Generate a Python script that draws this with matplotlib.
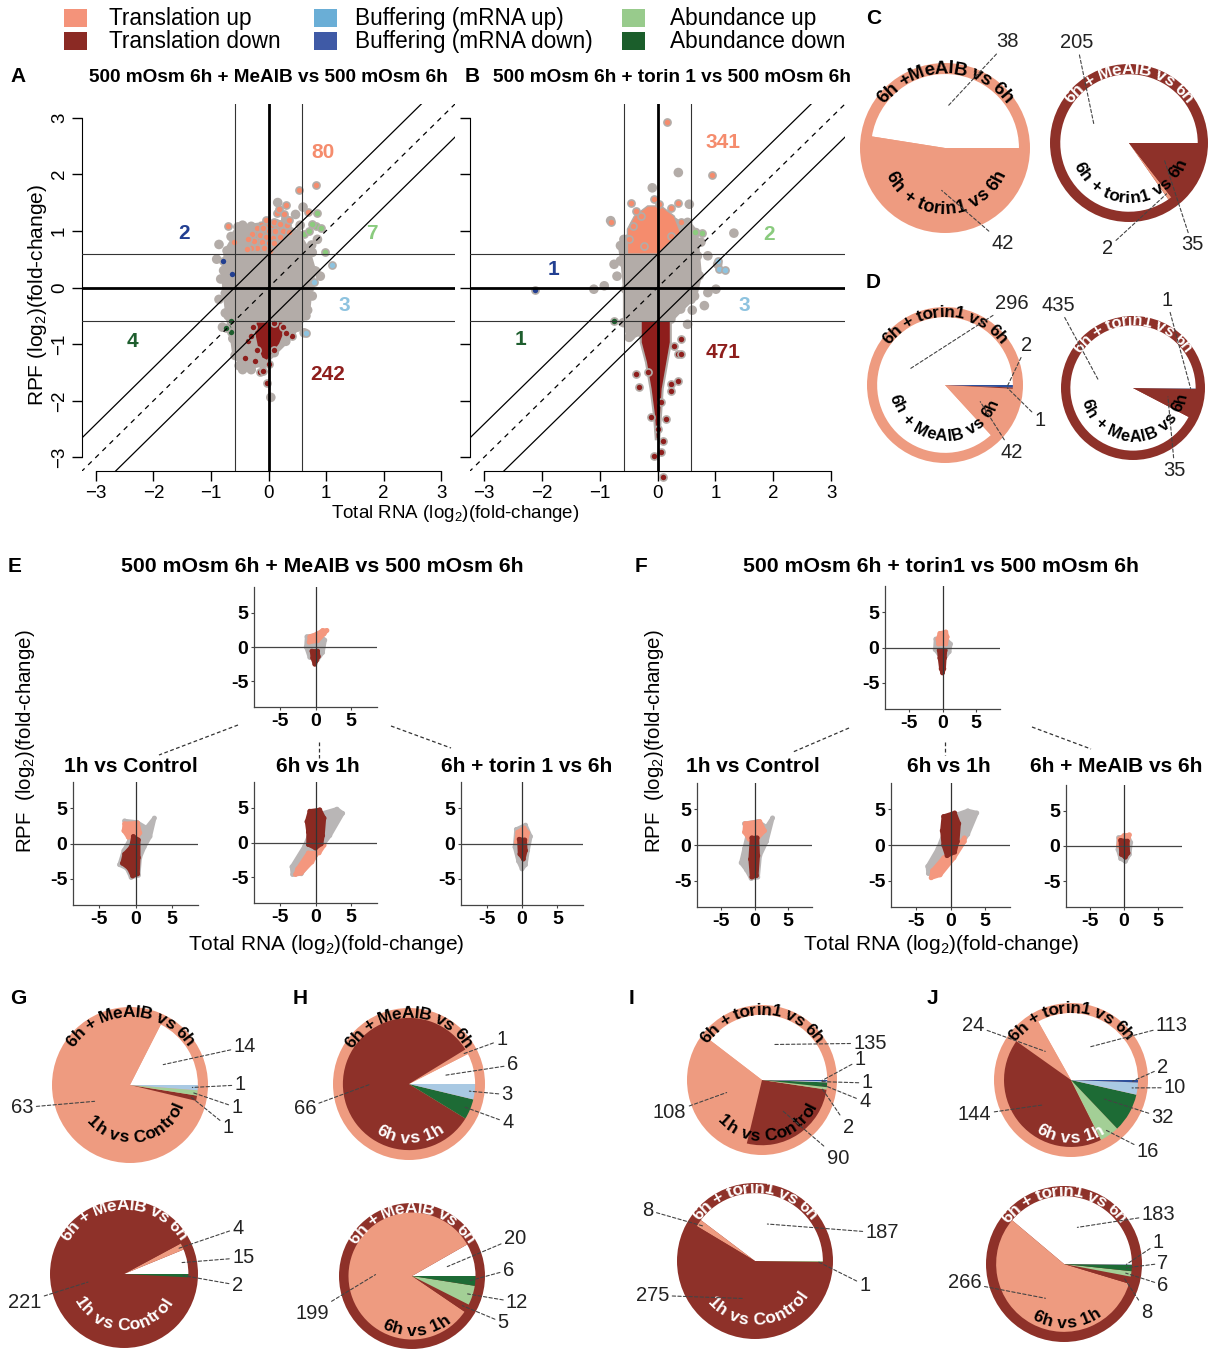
import numpy as np
import matplotlib.pyplot as plt
from matplotlib.patches import Rectangle, Wedge, Circle, Polygon
from matplotlib.font_manager import FontProperties, findfont, get_font

plt.rcParams['font.family'] = ['Liberation Sans', 'DejaVu Sans']
plt.rcParams['mathtext.fontset'] = 'custom'
plt.rcParams['mathtext.rm'] = 'Liberation Sans'
plt.rcParams['mathtext.it'] = 'Liberation Sans:italic'
plt.rcParams['mathtext.bf'] = 'Liberation Sans:bold'

W, H, DPI = 1220, 1349, 100

# ---------------------------------------------------------------- colours
GRAY = '#B3ACA8'
UP_PT, DOWN_PT = '#F58C6D', '#8E1E1C'
PIE_COLS = ['white', '#EE9B80', '#8E3129', '#A3CF96', '#1D6B35', '#A9C9E3', '#2C4F9B']
LEG_COLS = ['#F4937A', '#8B2A24', '#6AAED6', '#3F5AA6', '#98CB8C', '#1B5E2B']
SM_GRAY, SM_UP, SM_DOWN = '#B9B6B6', '#F4977E', '#8B2A22'

# ---------------------------------------------------------------- legend
legend_labels = ['Translation up', 'Translation down', 'Buffering (mRNA up)',
                 'Buffering (mRNA down)', 'Abundance up', 'Abundance down']

# ---------------------------------------------------------------- panel A/B data (log2 fold changes)
A_gray_poly = [(-0.55, 0.95), (-0.3, 1.08), (0.0, 1.12), (0.3, 1.08), (0.5, 0.95), (0.68, 0.65),
               (0.78, 0.3), (0.72, 0.0), (0.68, -0.4), (0.5, -0.7), (0.3, -0.95), (0.1, -1.15),
               (-0.1, -1.35), (-0.4, -1.4), (-0.58, -1.2), (-0.62, -0.9), (-0.7, -0.5),
               (-0.75, -0.1), (-0.78, 0.3), (-0.72, 0.65)]
A_gray_pts = [(-0.86, 0.76), (-0.83, 0.15), (-0.86, -0.21), (-0.75, -0.45), (0.16, 1.5), (0.47, 1.29),
              (0.6, 1.42), (0.85, 0.85), (0.76, 0.62), (0.82, 0.29), (0.76, -0.15), (0.65, -0.5),
              (0.36, -0.84), (0.04, -1.94), (-0.51, -1.38), (-0.53, 1.07), (-0.9, 0.5), (0.9, 0.2),
              (0.75, 0.75), (-0.45, -1.45), (0.3, 1.2), (-0.45, 1.1), (-0.65, 0.9), (0.55, 1.1),
              (0.62, -0.8), (-0.3, -1.45), (0.4, 0.0), (-0.8, -0.7)]
A_up_poly = [(-0.3, 0.62), (0.0, 0.62), (0.33, 0.95), (0.35, 1.1), (0.15, 1.2), (-0.15, 1.15), (-0.3, 0.95)]
A_up_pts = [(0.82, 1.81), (0.53, 1.72), (0.3, 1.45), (0.14, 1.32), (0.27, 1.3), (-0.05, 1.2),
            (0.1, 1.15), (0.2, 1.12), (0.32, 1.1), (-0.2, 1.05), (-0.1, 1.05), (0.0, 1.0), (0.12, 1.0),
            (0.25, 1.0), (0.35, 0.98), (-0.28, 0.95), (-0.15, 0.92), (-0.05, 0.9), (0.08, 0.88),
            (0.2, 0.9), (-0.25, 0.82), (-0.12, 0.8), (0.0, 0.78), (0.1, 0.78), (-0.2, 0.7),
            (-0.08, 0.7), (0.02, 0.65), (-0.3, 0.7), (-0.6, 0.8), (-0.71, 1.09), (-0.38, 0.68),
            (0.35, 1.2), (0.68, 1.34), (-0.35, 0.85), (0.18, 1.38)]
A_down_poly = [(-0.22, -0.6), (0.25, -0.6), (0.3, -0.75), (0.2, -1.0), (0.05, -1.2), (-0.02, -1.3),
               (-0.12, -1.25), (-0.2, -1.05), (-0.25, -0.8)]
A_down_pts = [(-0.35, -0.95), (-0.4, -1.25), (-0.24, -1.3), (-0.15, -1.5), (-0.1, -1.48),
              (-0.02, -1.68), (0.4, -0.85), (0.25, -0.7), (-0.27, -0.7), (0.1, -0.62), (0.3, -0.8),
              (0.0, -1.35), (0.1, -1.1), (-0.2, -1.1), (-0.3, -0.85)]
A_abup_pts = [(0.85, 1.32), (0.82, 1.09), (0.76, 1.12), (0.62, 0.94), (0.99, 0.63), (0.92, 1.05), (0.7, 1.0)]
A_abdown_pts = [(-0.66, -0.6), (-0.71, -0.69), (-0.65, -0.79), (-0.73, -0.72)]
A_bufup_pts = [(1.11, 0.4), (0.79, 0.1), (0.66, -0.81)]
A_bufdown_pts = [(-0.79, 0.46), (-0.64, 0.24)]
A_counts = ['80', '242', '2', '7', '3', '4']

B_gray_poly = [(-0.58, 0.85), (-0.29, 1.03), (0.0, 1.09), (0.29, 1.15), (0.52, 1.15), (0.66, 0.97),
               (0.69, 0.56), (0.72, 0.21), (0.64, -0.15), (0.40, -0.38), (0.23, -0.56), (0.0, -0.62),
               (-0.29, -0.79), (-0.49, -0.88), (-0.55, -0.62), (-0.55, -0.03), (-0.59, 0.44), (-0.64, 0.74)]
B_gray_pts = [(-0.81, 1.18), (-1.1, -0.03), (-0.92, 0.03), (-0.75, 0.41), (-0.64, 0.47), (0.87, 0.56),
              (1.04, 0.41), (1.32, 0.96), (0.87, -0.09), (0.81, -0.32), (0.58, -0.21), (1.01, -0.03),
              (0.55, 1.47), (0.36, 2.03), (-0.09, 1.76), (-0.59, -0.62), (-0.46, -0.85), (0.52, -0.65),
              (0.75, 0.8), (-0.7, 0.2), (0.6, -0.4)]
B_up_poly = [(-0.52, 0.59), (0.0, 0.59), (0.40, 0.97), (0.29, 1.26), (0.06, 1.44), (-0.17, 1.44),
             (-0.40, 1.26), (-0.52, 1.03)]
B_up_pts = [(0.17, 2.93), (0.95, 1.99), (-0.80, 1.16), (-0.46, 1.5), (-0.06, 1.56), (0.23, 1.41),
            (0.35, 1.5), (0.40, 1.15), (-0.29, 1.26), (-0.43, 1.09), (-0.49, 0.85), (-0.23, 0.74),
            (0.23, 0.91), (0.03, 1.47), (-0.38, 1.35)]
B_down_poly = [(-0.29, -0.59), (0.23, -0.59), (0.23, -0.97), (0.17, -1.32), (0.09, -1.79), (0.06, -2.26),
               (0.03, -2.68), (-0.03, -2.68), (-0.06, -2.26), (-0.12, -1.79), (-0.20, -1.32), (-0.29, -0.97)]
B_down_pts = [(-0.38, -1.53), (-0.32, -1.76), (0.23, -1.71), (0.35, -1.65), (0.35, -1.18), (0.40, -1.18),
              (0.29, -1.03), (0.40, -0.91), (-0.17, -1.5), (0.06, -2.91), (0.09, -3.35), (-0.06, -2.97),
              (0.09, -2.71), (0.0, -2.5), (0.14, -2.32), (-0.12, -2.29), (0.06, -2.03), (0.23, -1.82)]
B_abup_pts = [(0.77, 0.96), (0.64, 0.98)]
B_abdown_pts = [(-0.75, -0.6)]
B_bufup_pts = [(1.07, 0.32), (1.16, 0.31), (1.04, 0.47)]
B_bufdown_pts = [(-2.12, -0.05)]
B_counts = ['341', '471', '1', '2', '3', '1']

# ---------------------------------------------------------------- pies: none, up, down, ab up, ab down, buf up, buf down
C_left_vals = [38, 42, 0, 0, 0, 0, 0]
C_right_vals = [205, 2, 35, 0, 0, 0, 0]
D_left_vals = [296, 42, 1, 0, 0, 0, 2]
D_right_vals = [435, 0, 35, 0, 0, 1, 0]
G_top_vals = [14, 63, 1, 1, 0, 1, 0]
G_bot_vals = [15, 4, 221, 0, 2, 0, 0]
H_top_vals = [6, 1, 66, 0, 4, 3, 0]
H_bot_vals = [20, 199, 5, 12, 6, 0, 0]
I_top_vals = [135, 108, 90, 2, 4, 1, 1]
I_bot_vals = [187, 8, 275, 1, 0, 0, 0]
J_top_vals = [113, 24, 144, 16, 32, 10, 2]
J_bot_vals = [183, 266, 8, 6, 7, 1, 0]

# ---------------------------------------------------------------- E / F mini scatter clouds
E_top = dict(gray=[(-1.2, 1.5), (0.5, 1.8), (1.3, 1.0), (1.0, -0.8), (0.3, -1.8), (-0.8, -1.5), (-1.3, 0.0)],
             up=[(-0.9, 0.7), (0.3, 0.9), (1.2, 1.9), (1.6, 2.4), (1.0, 2.4), (0.2, 1.9), (-0.8, 1.5)],
             down=[(-0.5, -0.6), (0.3, -0.6), (0.4, -1.4), (0.1, -2.0), (-0.1, -2.5), (-0.4, -1.6)])
E_bl = dict(gray=[(-1.5, 3.2), (0.2, 3.0), (1.5, 2.2), (2.6, 3.6), (2.0, 1.0), (1.2, -0.5), (0.6, -2.0),
                  (0.4, -4.5), (-0.6, -4.8), (-1.2, -3.5), (-2.2, -3.0), (-1.6, -1.0), (-0.8, 0.5), (-1.2, 2.0)],
            up=[(-1.5, 2.8), (0.3, 2.9), (0.6, 1.5), (0.2, 0.8), (-1.0, 0.9), (-1.6, 1.8)],
            down=[(-0.3, 1.0), (0.4, 0.5), (0.4, -2.0), (0.3, -4.3), (-0.4, -4.6), (-0.9, -3.5),
                  (-1.8, -2.8), (-1.5, -1.5), (-0.6, -0.5)])
E_bm = dict(gray=[(-3.2, -4.6), (-2.0, -4.5), (0.0, -1.8), (2.0, 1.0), (3.8, 4.2), (3.0, 4.8), (1.0, 4.2),
                  (-0.5, 2.0), (-1.5, -0.5), (-3.3, -3.5)],
            down=[(-0.8, 4.5), (0.6, 4.7), (1.2, 3.5), (1.0, 1.0), (0.8, -0.2), (0.0, -0.8), (-1.0, -0.3),
                  (-1.0, 1.5), (-1.2, 3.0)],
            up=[(-2.8, -4.6), (-2.0, -4.4), (-0.5, -2.8), (0.8, -0.6), (1.2, -0.4), (0.5, -1.5),
                (-1.0, -1.5), (-2.5, -3.8)])
E_br = dict(gray=[(-0.8, 2.0), (0.5, 2.6), (1.2, 1.0), (0.8, -1.0), (0.5, -3.0), (0.0, -3.6), (-0.5, -2.5),
                  (-1.0, -0.5)],
            up=[(-0.8, 0.2), (0.6, 0.3), (0.8, 1.5), (0.3, 2.2), (-0.6, 1.6)],
            down=[(-0.4, 0.6), (0.4, 0.5), (0.5, -1.0), (0.2, -2.2), (-0.3, -1.5)])
F_top = dict(gray=[(-1.0, 1.2), (0.5, 1.2), (1.2, 0.5), (1.0, -0.6), (0.5, -1.2), (-0.5, -1.0), (-1.1, -0.3)],
             up=[(-0.6, 0.5), (0.5, 0.5), (0.7, 1.5), (0.5, 2.2), (-0.4, 2.0), (-0.7, 1.2)],
             down=[(-0.5, -0.4), (0.4, -0.4), (0.3, -1.5), (0.2, -3.0), (0.0, -3.6), (-0.2, -3.0), (-0.4, -1.5)])
F_bl = dict(gray=[(-1.5, 3.0), (0.5, 3.3), (1.8, 2.5), (2.7, 3.8), (1.8, 0.5), (0.8, -1.5), (0.5, -4.5),
                  (-0.5, -4.7), (-1.2, -3.5), (-2.0, -2.5), (-1.5, -0.5), (-1.0, 1.5)],
            up=[(-1.4, 3.0), (0.8, 3.3), (1.5, 2.0), (0.5, 1.0), (-0.8, 0.8), (-1.5, 1.8)],
            down=[(-0.4, 1.0), (0.4, 1.0), (0.5, -1.5), (0.3, -4.3), (-0.4, -4.5), (-0.6, -2.0)])
F_bm = dict(gray=[(-3.2, -4.0), (-1.5, -4.0), (0.5, -1.5), (2.5, 1.5), (3.8, 4.5), (2.5, 4.8), (1.0, 4.3),
                  (-0.8, 2.0), (-1.8, -0.5), (-3.3, -3.0)],
            up=[(-2.8, -4.6), (-1.5, -4.2), (0.5, -1.8), (2.0, 0.5), (2.0, 1.0), (0.8, -0.5), (-1.0, -1.8),
                (-2.6, -3.6)],
            down=[(-1.0, 4.0), (0.6, 4.5), (1.2, 3.0), (1.0, 0.5), (0.6, -1.0), (-0.5, -1.5), (-1.0, 0.0),
                  (-1.2, 2.0)])
F_br = dict(gray=[(-0.8, 1.2), (0.6, 1.4), (1.0, 0.5), (0.8, -1.2), (0.2, -2.2), (-0.5, -1.8), (-0.9, -0.5)],
            up=[(-0.8, 0.0), (0.5, 0.2), (0.8, 1.6), (0.0, 1.5), (-0.7, 1.0)],
            down=[(-0.5, 0.8), (0.5, 0.7), (0.6, -1.0), (0.2, -1.6), (-0.4, -1.2)])
small_ticks = [-5, 0, 5]
small_ticklabels = ['-5', '0', '5']
big_ticks = [-3, -2, -1, 0, 1, 2, 3]

fig = plt.figure(figsize=(W / DPI, H / DPI), dpi=DPI)
fig.patch.set_facecolor('white')


def px_axes(x0, y0, x1, y1):
    return fig.add_axes([x0 / W, 1 - y1 / H, (x1 - x0) / W, (y1 - y0) / H])


bg = px_axes(0, 0, W, H)
bg.set_xlim(0, W)
bg.set_ylim(H, 0)
bg.axis('off')

# legend
for i, lab in enumerate(legend_labels):
    col, row = i // 2, i % 2
    x0 = [64, 314, 622][col]
    y0 = [9, 32][row]
    bg.add_patch(Rectangle((x0, y0), 23, 18, fc=LEG_COLS[i], ec='none'))
    bg.text([109, 355, 670][col], y0 + 9.5, lab, fontsize=16.3, va='center', ha='left')

# panel letters
for let, x, y in [('A', 18, 77), ('B', 472, 77), ('C', 874, 18), ('D', 873, 283), ('E', 15, 567),
                  ('F', 641, 567), ('G', 18, 998), ('H', 300, 998), ('I', 632, 998), ('J', 932, 998)]:
    bg.text(x, y, let, fontsize=15, fontweight='bold', ha='center', va='center')


# ---------------------------------------------------------------- A / B scatter
def fc_panel(ax, gray_poly, gray_pts, up_poly, up_pts, down_poly, down_pts,
             abup, abdown, bufup, bufdown, counts, count_xy, ylab=True):
    ax.set_xlim(-3.24, 3.24)
    ax.set_ylim(-3.24, 3.24)
    for sp in ['top', 'right']:
        ax.spines[sp].set_visible(False)
    ax.spines['left'].set_bounds(-3, 3)
    ax.spines['bottom'].set_bounds(-3, 3)
    ax.set_xticks(big_ticks)
    ax.set_yticks(big_ticks)
    ax.tick_params(length=7, width=1, labelsize=13.5, pad=3)
    if ylab:
        for t in ax.get_yticklabels():
            t.set_rotation(90)
            t.set_va('center')
    else:
        ax.set_yticklabels([])

    ax.add_patch(Polygon(gray_poly, closed=True, fc=GRAY, ec=GRAY, lw=4, joinstyle='round', zorder=1))
    gx, gy = zip(*(gray_pts + gray_poly))
    ax.scatter(gx, gy, s=48, c=GRAY, edgecolors='none', zorder=1)
    ax.add_patch(Polygon(up_poly, closed=True, fc=UP_PT, ec=GRAY, lw=1, zorder=2))
    ax.add_patch(Polygon(down_poly, closed=True, fc=DOWN_PT, ec=GRAY, lw=1.5, zorder=2))
    for pts, col in [(up_pts, UP_PT), (down_pts, DOWN_PT), (abup, '#8CCB7E'), (abdown, '#1E5E2E'),
                     (bufup, '#8EC3DF'), (bufdown, '#223F91')]:
        x, y = zip(*pts)
        ax.scatter(x, y, s=26, c=col, edgecolors=GRAY, linewidths=1.2, zorder=3, clip_on=False)

    xs = np.array([-4, 4])
    for v in (-0.585, 0.585):
        ax.axvline(v, color='#333333', lw=0.8, zorder=4)
        ax.axhline(v, color='#333333', lw=0.8, zorder=4)
    ax.axvline(0, color='black', lw=2, zorder=4)
    ax.axhline(0, color='black', lw=2, zorder=4)
    ax.plot(xs, xs + 0.585, color='black', lw=0.9, zorder=4)
    ax.plot(xs, xs - 0.585, color='black', lw=0.9, zorder=4)
    ax.plot(xs, xs, color='black', lw=0.9, ls=(0, (4, 4)), zorder=4)

    ccols = [UP_PT, DOWN_PT, '#223F91', '#8ACB7E', '#8EC3DF', '#1E5E2E']
    for c, (x, y), col in zip(counts, count_xy, ccols):
        ax.text(x, y, c, color=col, fontsize=15, fontweight='bold', ha='center', va='center', zorder=5)


axA = px_axes(82, 104, 455, 471)
fc_panel(axA, A_gray_poly, A_gray_pts, A_up_poly, A_up_pts, A_down_poly, A_down_pts,
         A_abup_pts, A_abdown_pts, A_bufup_pts, A_bufdown_pts, A_counts,
         [(0.95, 2.39), (1.03, -1.54), (-1.47, 0.96), (1.80, 0.96), (1.31, -0.31), (-2.37, -0.95)])
axB = px_axes(470, 104, 845, 471)
fc_panel(axB, B_gray_poly, B_gray_pts, B_up_poly, B_up_pts, B_down_poly, B_down_pts,
         B_abup_pts, B_abdown_pts, B_bufup_pts, B_bufdown_pts, B_counts,
         [(1.13, 2.56), (1.13, -1.14), (-1.79, 0.32), (1.92, 0.93), (1.50, -0.31), (-2.36, -0.92)],
         ylab=False)

bg.text(268, 77, '500 mOsm 6h + MeAIB vs 500 mOsm 6h', fontsize=13.7, fontweight='bold', ha='center', va='center')
bg.text(672, 77, '500 mOsm 6h + torin 1 vs 500 mOsm 6h', fontsize=13.7, fontweight='bold', ha='center', va='center')
bg.text(38, 295, r'RPF (log$_2$)(fold-change)', fontsize=15, rotation=90, ha='center', va='center')
bg.text(455, 514, r'Total RNA (log$_2$)(fold-change)', fontsize=13.5, ha='center', va='center')

# ---------------------------------------------------------------- pies
BOLD = FontProperties(family='Liberation Sans', weight='bold')


def advances(s, size):
    font = get_font(findfont(BOLD))
    font.set_size(size, 72)
    return [font.load_char(ord(c)).linearHoriAdvance / 65536 for c in s]


def arc_text(ax, s, R, r, mid, size, color, top=True):
    adv = [a * DPI / 72 / R for a in advances(s, size)]
    span = sum(adv) / r
    pos = 0
    for ch, a in zip(s, adv):
        c = pos + a / 2
        pos += a
        if ch == ' ':
            continue
        if top:
            th = np.radians(mid) + span / 2 - c / r
            rot = np.degrees(th) - 90
        else:
            th = np.radians(mid) - span / 2 + c / r
            rot = np.degrees(th) + 90
        ax.text(r * np.cos(th), r * np.sin(th), ch, rotation=rot, rotation_mode='anchor',
                ha='center', va='center', fontsize=size, fontweight='bold', color=color)


def pie(cx, cy, R, vals, ring, ring_text, inner_text, inner_mid, inner_r, inner_col, label_pos,
        size=12.5, isize=12.5):
    L = 2.0
    ax = px_axes(cx - L * R, cy - L * R, cx + L * R, cy + L * R)
    ax.set_xlim(-L, L)
    ax.set_ylim(-L, L)
    ax.axis('off')
    ax.add_patch(Circle((0, 0), 1, fc=PIE_COLS[ring], ec='none'))
    tot = sum(vals)
    a0 = 0
    k = 0
    for i, v in enumerate(vals):
        if v == 0:
            continue
        a1 = a0 + 360 * v / tot
        ax.add_patch(Wedge((0, 0), 0.87, a0, a1, fc=PIE_COLS[i], ec='none'))
        mid = np.radians((a0 + a1) / 2)
        ra = 0.5 if a1 - a0 > 25 else 0.8
        lx, ly = label_pos[k]
        k += 1
        ax.annotate(str(v), xy=(ra * np.cos(mid), ra * np.sin(mid)), xytext=(lx, ly),
                    fontsize=14.5, color='#222222', ha='center', va='center', zorder=6,
                    arrowprops=dict(arrowstyle='-', ls=(0, (3, 2)), lw=0.8, color='#444444',
                                    shrinkA=0, shrinkB=0))
        a0 = a1
    ring_col = 'white' if ring == 2 else 'black'
    arc_text(ax, ring_text, R, 0.93, 90, size, ring_col, top=True)
    arc_text(ax, inner_text, R, inner_r, inner_mid, isize, inner_col, top=False)


MEAIB, TORIN = '6h + MeAIB vs 6h', '6h + torin1 vs 6h'
pie(945, 148, 85, C_left_vals, 1, '6h +MeAIB vs 6h', TORIN, -89, 0.72, 'black',
    [(0.74, 1.25), (0.68, -1.12)], size=13.5, isize=13)
pie(1129, 143, 79, C_right_vals, 2, MEAIB, TORIN, -88, 0.70, 'black',
    [(-0.66, 1.27), (-0.27, -1.33), (0.80, -1.29)], size=12.5, isize=12.5)
pie(945, 385, 78, D_left_vals, 1, TORIN, MEAIB, -93, 0.66, 'black',
    [(0.86, 1.05), (0.86, -0.86), (1.22, -0.45), (1.05, 0.51)], size=12.5, isize=12)
pie(1133, 388, 72, D_right_vals, 2, TORIN, MEAIB, -86, 0.68, 'black',
    [(-1.04, 1.15), (0.58, -1.14), (0.47, 1.22)], size=12, isize=12)

pie(130, 1085, 78, G_top_vals, 1, MEAIB, '1h vs Control', -80, 0.68, 'black',
    [(1.47, 0.49), (-1.38, -0.29), (1.26, -0.54), (1.37, -0.29), (1.41, 0.0)])
pie(124, 1274, 74, G_bot_vals, 2, MEAIB, '1h vs Control', -91, 0.70, 'white',
    [(1.61, 0.22), (1.54, 0.62), (-1.34, -0.38), (1.53, -0.15)])
pie(409, 1084, 76, H_top_vals, 1, MEAIB, '6h vs 1h', -89, 0.72, 'white',
    [(1.36, 0.25), (1.22, 0.58), (-1.37, -0.32), (1.30, -0.51), (1.29, -0.14)])
pie(412, 1276, 73, H_bot_vals, 2, MEAIB, '6h vs 1h', -85, 0.76, 'black',
    [(1.41, 0.52), (-1.37, -0.51), (1.25, -0.64), (1.44, -0.36), (1.32, 0.08)])
pie(762, 1080, 75, I_top_vals, 1, TORIN, '1h vs Control', -81, 0.75, 'black',
    [(1.44, 0.49), (-1.23, -0.44), (1.01, -1.04), (1.15, -0.63), (1.37, -0.29), (1.40, -0.04), (1.31, 0.27)])
pie(755, 1261, 78, I_bot_vals, 2, TORIN, '1h vs Control', -86, 0.76, 'white',
    [(1.63, 0.36), (-1.37, 0.65), (-1.31, -0.44), (1.41, -0.31)])
pie(1071, 1080, 77, J_top_vals, 1, TORIN, '6h vs 1h', -91, 0.76, 'white',
    [(1.31, 0.71), (-1.27, 0.71), (-1.25, -0.45), (1.0, -0.93), (1.19, -0.49), (1.35, -0.10), (1.19, 0.16)])
pie(1064, 1264, 78, J_bot_vals, 2, TORIN, '6h vs 1h', -87, 0.76, 'black',
    [(1.21, 0.63), (-1.27, -0.24), (1.06, -0.62), (1.27, -0.27), (1.27, 0.01), (1.21, 0.27)])


# ---------------------------------------------------------------- E / F mini scatter plots
def mini(box, cloud):
    ax = px_axes(*box)
    ax.set_xlim(-8.6, 8.6)
    ax.set_ylim(-8.7, 8.7)
    for key, col in [('gray', SM_GRAY), ('up', SM_UP), ('down', SM_DOWN)]:
        poly = cloud[key]
        ax.add_patch(Polygon(poly, closed=True, fc=col, ec=col, lw=3, joinstyle='round', zorder=2))
        x, y = zip(*poly)
        ax.scatter(x, y, s=12, c=col, edgecolors='none', zorder=2)
    ax.axhline(0, color='#444444', lw=0.9, zorder=3)
    ax.axvline(0, color='#333333', lw=0.9, zorder=3)
    for sp in ['top', 'right']:
        ax.spines[sp].set_visible(False)
    for sp in ['left', 'bottom']:
        ax.spines[sp].set_color('#444444')
        ax.spines[sp].set_linewidth(0.9)
    ax.set_xticks(small_ticks)
    ax.set_yticks(small_ticks)
    ax.set_xticklabels(small_ticklabels, fontweight='bold')
    ax.set_yticklabels(small_ticklabels, fontweight='bold')
    ax.tick_params(length=2, labelsize=14, pad=2, color='#444444')
    ax.patch.set_alpha(0)
    return ax


mini((254, 587, 377, 707), E_top)
mini((73, 782, 198, 905), E_bl)
mini((254, 782, 377, 903), E_bm)
mini((461, 782, 583, 905), E_br)
mini((885, 586, 1000, 709), F_top)
mini((697, 783, 812, 907), F_bl)
mini((891, 783, 1010, 907), F_bm)
mini((1066, 785, 1182, 907), F_br)

for txt, x, y, fs in [('500 mOsm 6h + MeAIB vs 500 mOsm 6h', 322, 567, 15.3), ('1h vs Control', 131, 767, 15),
                      ('6h vs 1h', 318, 767, 15), ('6h + torin 1 vs 6h', 527, 767, 15),
                      ('500 mOsm 6h + torin1 vs 500 mOsm 6h', 941, 567, 15.3), ('1h vs Control', 753, 767, 15),
                      ('6h vs 1h', 949, 767, 15), ('6h + MeAIB vs 6h', 1116, 767, 15)]:
    bg.text(x, y, txt, fontsize=fs, fontweight='bold', ha='center', va='center')

for xl, yl in [(326, 945), (941, 945)]:
    bg.text(xl, yl, r'Total RNA (log$_2$)(fold-change)', fontsize=15, ha='center', va='center')
for xl in (26, 655):
    bg.text(xl, 741, r'RPF  (log$_2$)(fold-change)', fontsize=14.8, rotation=90, ha='center', va='center')

for (x0, y0), (x1, y1) in [((238, 725), (159, 755)), ((319, 742), (319, 758)), ((391, 726), (451, 748)),
                           ((849, 728), (793, 752)), ((945, 742), (945, 755)), ((1032, 727), (1091, 749))]:
    bg.plot([x0, x1], [y0, y1], color='#333333', lw=0.9, ls=(0, (3, 2)))

fig.savefig('out.png', dpi=DPI, facecolor='white')
